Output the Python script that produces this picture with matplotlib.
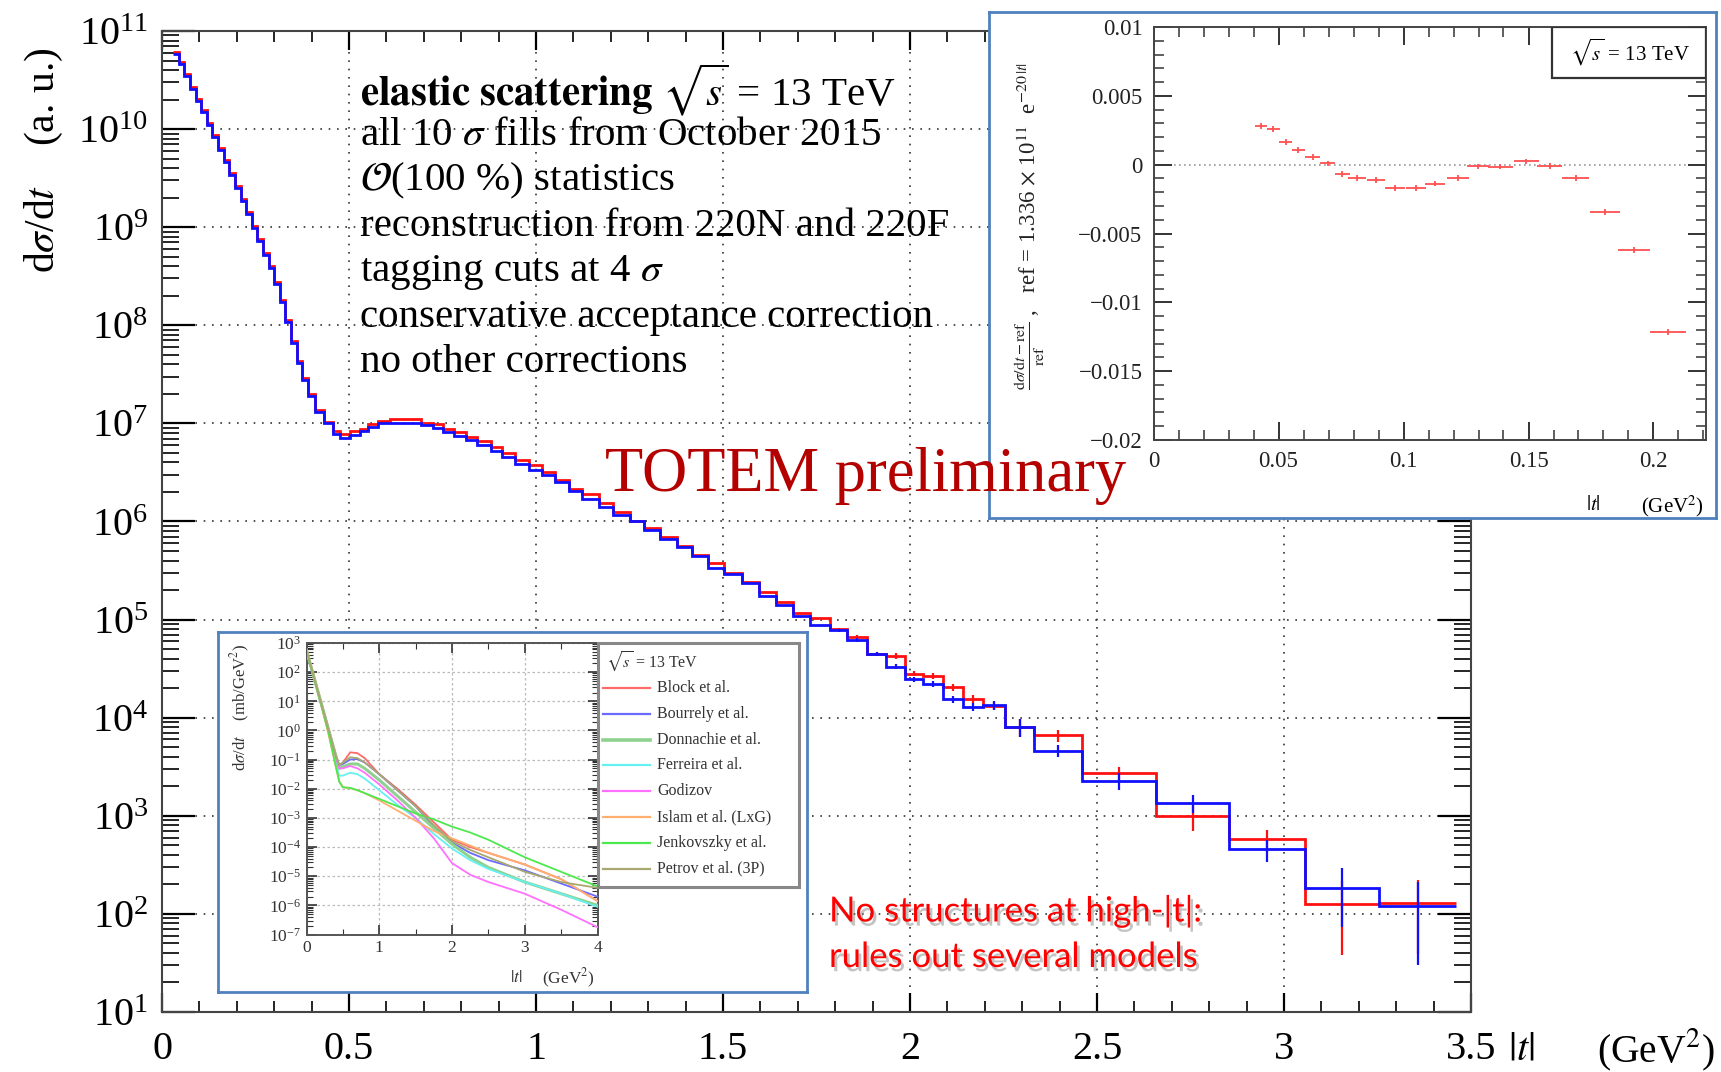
import numpy as np
import matplotlib
matplotlib.use('Agg')
import matplotlib.pyplot as plt
from matplotlib.patches import Rectangle
from matplotlib.lines import Line2D
import matplotlib.patheffects as pe
from matplotlib.ticker import MultipleLocator, LogLocator, NullFormatter, FuncFormatter

plt.rcParams['font.family'] = ['Liberation Serif', 'DejaVu Serif']
plt.rcParams['mathtext.fontset'] = 'stix'

# ---------------- data: main histogram ----------------
t_edges = [0.030, 0.045, 0.060, 0.075, 0.090, 0.105, 0.120, 0.135, 0.150, 0.165,
           0.180, 0.195, 0.210, 0.225, 0.240, 0.255, 0.270, 0.285, 0.300, 0.315,
           0.330, 0.345, 0.360, 0.375, 0.390, 0.410, 0.432, 0.458, 0.476, 0.503,
           0.529, 0.551, 0.578, 0.609, 0.650, 0.693, 0.724, 0.750, 0.781, 0.812,
           0.843, 0.879, 0.910, 0.945, 0.981, 1.016, 1.052, 1.088, 1.124, 1.169,
           1.205, 1.250, 1.290, 1.331, 1.376, 1.416, 1.461, 1.502, 1.551, 1.596,
           1.641, 1.688, 1.732, 1.786, 1.832, 1.886, 1.936, 1.987, 2.036, 2.089,
           2.143, 2.196, 2.254, 2.332, 2.460, 2.659, 2.853, 3.055, 3.255, 3.460]

# log10 of dsigma/dt (a.u.)
blue_log10 = [10.77, 10.66, 10.54, 10.41, 10.29, 10.17, 10.04, 9.92, 9.79, 9.66,
              9.53, 9.40, 9.27, 9.13, 8.99, 8.86, 8.72, 8.58, 8.42, 8.24,
              8.03, 7.82, 7.62, 7.44, 7.28,
              7.12, 7.00, 6.89, 6.85, 6.88, 6.92, 6.96, 7.00, 7.00, 7.00,
              6.98, 6.95, 6.915, 6.87, 6.83, 6.78, 6.72, 6.66, 6.59, 6.53,
              6.475, 6.40, 6.315, 6.23, 6.15, 6.07, 6.00, 5.91, 5.82, 5.74,
              5.65, 5.525, 5.46, 5.37, 5.24, 5.15, 5.04, 4.946, 4.89, 4.79,
              4.65, 4.52, 4.39, 4.34, 4.19, 4.11, 4.125, 3.905, 3.66, 3.356,
              3.13, 2.658, 2.264, 2.082]
red_log10 = [10.79, 10.68, 10.56, 10.43, 10.31, 10.19, 10.06, 9.94, 9.81, 9.68,
             9.55, 9.42, 9.29, 9.15, 9.01, 8.88, 8.74, 8.60, 8.44, 8.26,
             8.05, 7.84, 7.64, 7.46, 7.30,
             7.14, 7.01, 6.92, 6.89, 6.92, 6.945, 6.99, 7.02, 7.04, 7.04,
             7.00, 6.99, 6.94, 6.915, 6.86, 6.82, 6.76, 6.70, 6.63, 6.575,
             6.50, 6.42, 6.33, 6.28, 6.19, 6.10, 6.01, 5.93, 5.84, 5.75,
             5.66, 5.58, 5.48, 5.38, 5.28, 5.18, 5.07, 5.02, 4.90, 4.82,
             4.65, 4.63, 4.45, 4.43, 4.31, 4.19, 4.12, 3.905, 3.82, 3.437,
             3.0, 2.76, 2.10, 2.116]
# relative uncertainties of the last 16 bins (|t| > 1.786)
blue_relerr_tail = [0.04, 0.05, 0.05, 0.06, 0.06, 0.07, 0.08, 0.09, 0.10, 0.20,
                    0.14, 0.20, 0.20, 0.25, 0.60, 0.75]
red_relerr_tail = [0.04, 0.05, 0.05, 0.06, 0.06, 0.07, 0.08, 0.09, 0.10, 0.20,
                   0.14, 0.15, 0.30, 0.25, 0.70, 0.70]

x_ticks = [0, 0.5, 1, 1.5, 2, 2.5, 3, 3.5]
x_ticklabels = ['0', '0.5', '1', '1.5', '2', '2.5', '3', '3.5']

# ---------------- data: top-right inset ----------------
ins_t = [0.0429, 0.0479, 0.0528, 0.0579, 0.0637, 0.0697, 0.0754, 0.0814, 0.0889,
         0.0964, 0.1049, 0.1124, 0.1218, 0.1297, 0.1387, 0.1491, 0.1585, 0.1688,
         0.1806, 0.1923, 0.2058]
ins_dev = [0.0028, 0.0026, 0.00163, 0.00107, 0.00054, 0.0001, -0.00066, -0.00098,
           -0.0011, -0.0017, -0.0017, -0.00137, -0.00098, -0.00012, -0.00015,
           0.00024, -0.0001, -0.00098, -0.00344, -0.0062, -0.01215]
ins_terr = [0.0025, 0.0025, 0.0025, 0.0027, 0.003, 0.003, 0.003, 0.0035, 0.0035,
            0.004, 0.004, 0.004, 0.0045, 0.0045, 0.005, 0.005, 0.005, 0.0055,
            0.006, 0.0065, 0.007]
ins_deverr = [0.0002] * len(ins_t)

# ---------------- data: bottom-left inset (models) ----------------
model_t = [0, 0.1, 0.2, 0.3, 0.4, 0.45, 0.5, 0.6, 0.7, 0.8, 1.0, 1.25, 1.5, 1.75,
           2.0, 2.25, 2.5, 3.0, 3.5, 4.0]
model_names = ['Block et al.', 'Bourrely et al.', 'Donnachie et al.', 'Ferreira et al.',
               'Godizov', 'Islam et al. (LxG)', 'Jenkovszky et al.', 'Petrov et al. (3P)']
model_colors = ['#ff6a6a', '#6a6aff', '#8fd18f', '#66f0f0', '#ff70ff', '#ffb070',
                '#4ee84e', '#a8a870']
model_log10 = [
    [2.8, 1.9, 1.0, 0.1, -0.8, -1.2, -1.1, -0.75, -0.78, -0.95, -1.5, -2.0, -2.55, -3.15, -3.75, -4.0, -4.2, -4.6, -5.1, -5.85],
    [2.75, 1.85, 0.95, 0.05, -0.85, -1.2, -1.15, -1.0, -0.98, -1.1, -1.5, -2.05, -2.6, -3.3, -3.85, -4.2, -4.45, -4.8, -5.25, -5.7],
    [2.75, 1.85, 0.95, 0.05, -0.85, -1.3, -1.25, -1.15, -1.15, -1.3, -1.7, -2.25, -2.8, -3.35, -3.9, -4.35, -4.7, -5.2, -5.6, -6.0],
    [2.7, 1.8, 0.9, 0.0, -1.1, -1.55, -1.55, -1.45, -1.5, -1.65, -2.05, -2.55, -3.0, -3.55, -4.05, -4.45, -4.75, -5.2, -5.6, -6.05],
    [2.7, 1.8, 0.9, 0.0, -0.9, -1.3, -1.3, -1.22, -1.3, -1.45, -1.85, -2.4, -3.0, -3.7, -4.55, -4.95, -5.2, -5.6, -6.15, -6.75],
    [2.75, 1.85, 0.9, -0.1, -1.2, -1.75, -1.95, -1.98, -2.05, -2.15, -2.4, -2.75, -3.1, -3.45, -3.7, -3.95, -4.2, -4.6, -5.1, -5.85],
    [2.7, 1.8, 0.9, -0.05, -1.2, -1.75, -1.95, -1.97, -2.05, -2.15, -2.35, -2.6, -2.85, -3.05, -3.3, -3.5, -3.75, -4.35, -4.85, -5.35],
    [2.75, 1.85, 0.95, 0.05, -0.85, -1.2, -1.1, -0.92, -0.95, -1.1, -1.5, -2.05, -2.6, -3.25, -3.8, -4.1, -4.35, -4.85, -5.2, -5.4],
]

info_lines = [r'$\mathbf{elastic\ scattering}$ $\sqrt{s}$ = 13 TeV',
              r'all 10 $\sigma$ fills from October 2015',
              r'$\mathcal{O}$(100 %) statistics',
              'reconstruction from 220N and 220F',
              r'tagging cuts at 4 $\sigma$',
              'conservative acceptance correction',
              'no other corrections']

# ---------------- figure ----------------
W, H = 1721, 1072
fig = plt.figure(figsize=(W / 100, H / 100), dpi=100)
fig.patch.set_facecolor('white')


def axes_px(left, top, right, bottom, **kw):
    return fig.add_axes([left / W, 1 - bottom / H, (right - left) / W, (bottom - top) / H], **kw)


SP = '#444444'
GRID_LS = (0, (1, 4))

# ---- main axes ----
ax = axes_px(162, 31, 1471, 1012)
ax.set_yscale('log')
ax.set_xlim(0, 3.5)
ax.set_ylim(10, 1e11)
edges = np.array(t_edges)
red_v = 10 ** np.array(red_log10)
blue_v = 10 ** np.array(blue_log10)
ax.stairs(red_v, edges, baseline=None, color='#ff1010', lw=2.0, zorder=3)
ax.stairs(blue_v, edges, baseline=None, color='#1010ff', lw=2.0, zorder=4)
centers = 0.5 * (edges[1:] + edges[:-1])
n_tail = len(blue_relerr_tail)
ax.errorbar(centers[-n_tail:], red_v[-n_tail:], yerr=red_v[-n_tail:] * np.array(red_relerr_tail),
            fmt='none', ecolor='#ff1010', elinewidth=1.6, zorder=3)
ax.errorbar(centers[-n_tail:], blue_v[-n_tail:], yerr=blue_v[-n_tail:] * np.array(blue_relerr_tail),
            fmt='none', ecolor='#1010ff', elinewidth=1.6, zorder=4)

ax.set_xticks(x_ticks)
ax.set_xticklabels(x_ticklabels)
ax.xaxis.set_minor_locator(MultipleLocator(0.1))
ax.yaxis.set_major_locator(LogLocator(base=10, numticks=20))
ax.yaxis.set_minor_locator(LogLocator(base=10, subs=np.arange(2, 10), numticks=20))
ax.yaxis.set_minor_formatter(NullFormatter())
ax.tick_params(which='both', direction='in', top=True, right=True, colors='black')
ax.tick_params(axis='y', which='major', length=24, width=1.6, labelsize=29, pad=10)
ax.tick_params(axis='y', which='minor', length=12, width=1.2)
ax.tick_params(axis='x', which='major', length=14, width=1.6, labelsize=29, pad=14)
ax.tick_params(axis='x', which='minor', length=8, width=1.2)
ax.grid(True, which='major', color='#333333', ls=GRID_LS, lw=1.2)
for s in ax.spines.values():
    s.set_color(SP)
    s.set_linewidth(1.5)

fig.text(44 / W, 1 - 48 / H, r'd$\sigma$/d$t$    (a. u.)', rotation=90, ha='center', va='top', fontsize=30)
fig.text(1508 / W, 1 - 1050 / H, r'$|t|$', ha='left', va='center', fontsize=29)
fig.text(1597 / W, 1 - 1050 / H, r'(GeV$^2$)', ha='left', va='center', fontsize=28.5)

for i, line in enumerate(info_lines):
    fig.text(360 / W, 1 - (90 + 45.5 * i) / H, line, ha='left', va='center', fontsize=29.5)

fig.text(605 / W, 1 - 476 / H, 'TOTEM preliminary', ha='left', va='center', fontsize=45,
         color='#b50000')

shadow = [pe.SimplePatchShadow(offset=(2, -3), shadow_rgbFace='#888888', alpha=0.5), pe.Normal()]
fig.text(829 / W, 1 - 911 / H, 'No structures at high-|t|:', ha='left', va='center',
         fontsize=25, color='#ff0000', family='Lato', path_effects=shadow)
fig.text(829 / W, 1 - 957 / H, 'rules out several models', ha='left', va='center',
         fontsize=25, color='#ff0000', family='Lato', path_effects=shadow)

FRAME = '#4f81bd'

# ---- top-right inset frame ----
fr1 = axes_px(989, 12, 1716, 518)
fr1.set_xticks([]); fr1.set_yticks([])
for s in fr1.spines.values():
    s.set_color(FRAME); s.set_linewidth(2)

ax1 = axes_px(1153.5, 27, 1706, 440)
ax1.set_xlim(0, 0.221)
ax1.set_ylim(-0.02, 0.01)
ax1.axhline(0, color='#999999', ls=(0, (1, 2)), lw=1.2, zorder=1)
ax1.errorbar(ins_t, ins_dev, xerr=ins_terr, yerr=ins_deverr, fmt='none', ecolor='#ff5050',
             elinewidth=1.3, zorder=3)
ax1.xaxis.set_major_locator(MultipleLocator(0.05))
ax1.xaxis.set_minor_locator(MultipleLocator(0.01))
ax1.yaxis.set_major_locator(MultipleLocator(0.005))
ax1.yaxis.set_minor_locator(MultipleLocator(0.001))
fmt = FuncFormatter(lambda v, p: ('%g' % round(v, 4)).replace('-', '\u2212'))
ax1.xaxis.set_major_formatter(fmt)
ax1.yaxis.set_major_formatter(fmt)
ax1.tick_params(which='both', direction='in', top=True, right=True, colors='#333333',
                labelcolor='#222222')
ax1.tick_params(which='major', length=13, width=1.4, labelsize=16.5, pad=8)
ax1.tick_params(which='minor', length=7, width=1.1)
for s in ax1.spines.values():
    s.set_color(SP); s.set_linewidth(1.4)
ax1.add_patch(Rectangle((0.1595, 0.00627), 0.221 - 0.1595, 0.01 - 0.00627, transform=ax1.transData,
                        fill=True, facecolor='white', edgecolor='#333333', lw=1.6, zorder=5))
ax1.text(0.1905, 0.00815, r'$\sqrt{s}$ = 13 TeV', ha='center', va='center', fontsize=15, zorder=6)
fig.text(1030 / W, 1 - 226 / H,
         r'$\frac{\mathrm{d}\sigma/\mathrm{d}t - \mathrm{ref}}{\mathrm{ref}}$ ,   ref = 1.336 $\times$ 10$^{11}$  e$^{-20\,|t|}$',
         rotation=90, ha='center', va='center', fontsize=16.5, color='#222222')
fig.text(1593 / W, 1 - 506 / H, r'$|t|$', ha='center', va='center', fontsize=15)
fig.text(1704 / W, 1 - 506 / H, r'(GeV$^2$)', ha='right', va='center', fontsize=15)

# ---- bottom-left inset frame ----
fr2 = axes_px(218, 632, 807, 992)
fr2.set_xticks([]); fr2.set_yticks([])
for s in fr2.spines.values():
    s.set_color(FRAME); s.set_linewidth(2)

ax2 = axes_px(306.5, 643, 597.5, 934.5)
ax2.set_yscale('log')
ax2.set_xlim(0, 4)
ax2.set_ylim(1e-7, 1e3)
for name, col, vals in zip(model_names, model_colors, model_log10):
    lw = 2.2 if name.startswith('Donnachie') else 1.3
    ax2.plot(model_t, 10 ** np.array(vals), color=col, lw=lw, zorder=3)
ax2.xaxis.set_major_locator(MultipleLocator(1))
ax2.xaxis.set_minor_locator(MultipleLocator(0.5))
ax2.yaxis.set_major_locator(LogLocator(base=10, numticks=20))
ax2.yaxis.set_minor_locator(LogLocator(base=10, subs=np.arange(2, 10), numticks=20))
ax2.yaxis.set_minor_formatter(NullFormatter())
ax2.tick_params(which='both', direction='in', top=True, right=True, colors='#333333',
                labelcolor='#333333')
ax2.tick_params(which='major', length=7, width=1.2, labelsize=12.5, pad=4)
ax2.tick_params(which='minor', length=4, width=0.8)
ax2.grid(True, which='major', color='#bbbbbb', ls=(0, (2, 2)), lw=0.9)
for s in ax2.spines.values():
    s.set_color('#555555'); s.set_linewidth(1.4)
fig.text(240 / W, 1 - 644 / H, r'd$\sigma$/d$t$    (mb/GeV$^2$)', rotation=90, ha='center',
         va='top', fontsize=12, color='#333333')
fig.text(516 / W, 1 - 978 / H, r'$|t|$', ha='center', va='center', fontsize=12.5, color='#333333')
fig.text(595 / W, 1 - 978 / H, r'(GeV$^2$)', ha='right', va='center', fontsize=12.5, color='#333333')

# legend box for models
fig.add_artist(Rectangle((598 / W, 1 - 887 / H), (799 - 598) / W, (887 - 643) / H,
                         transform=fig.transFigure, fill=False, edgecolor='#888888', lw=2.2))
fig.text(606 / W, 1 - 662 / H, r'$\sqrt{s}$ = 13 TeV', ha='left', va='center', fontsize=11.5,
         color='#333333')
for i, (name, col) in enumerate(zip(model_names, model_colors)):
    y = 1 - (688 + 25.8 * i) / H
    lw = 2.6 if name.startswith('Donnachie') else 1.6
    fig.add_artist(Line2D([603 / W, 650 / W], [y, y], transform=fig.transFigure, color=col, lw=lw))
    fig.text(657 / W, y, name, ha='left', va='center', fontsize=11.5, color='#333333')

fig.savefig('out.png', dpi=100, facecolor='white')
